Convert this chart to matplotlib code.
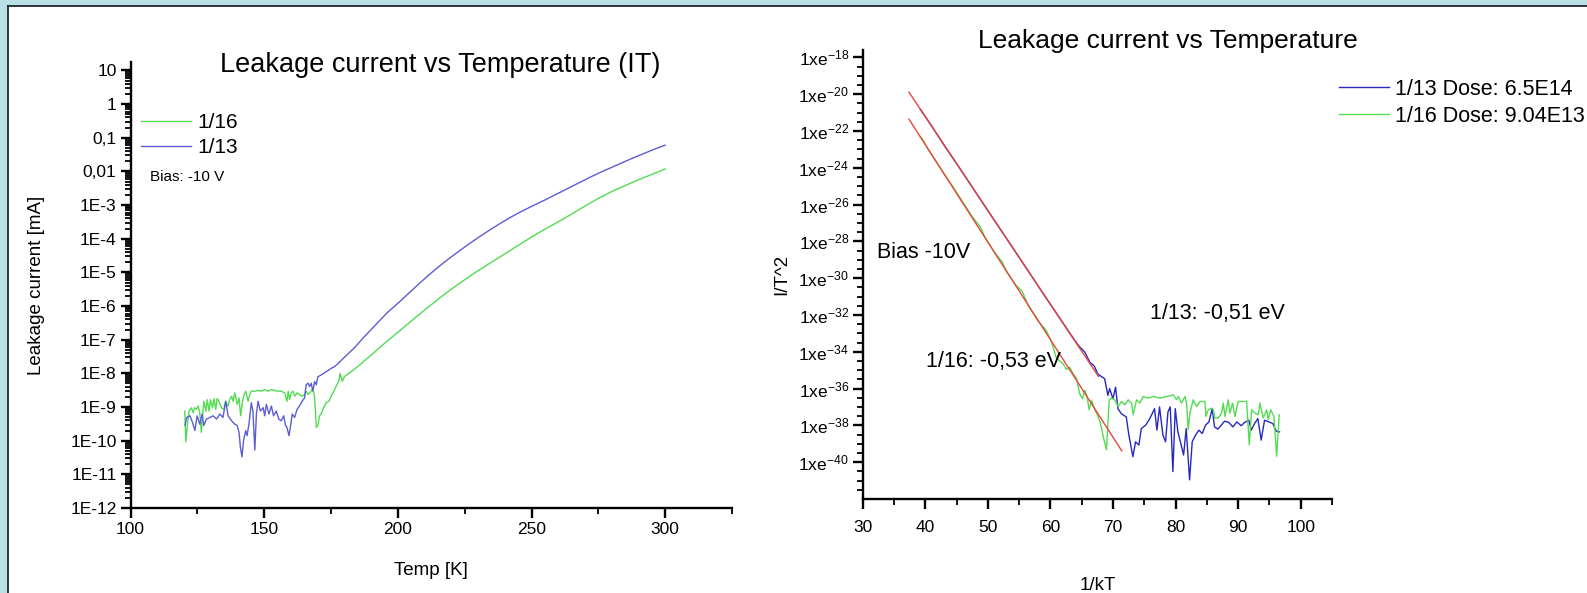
import numpy as np
import matplotlib
matplotlib.use("Agg")
import matplotlib.pyplot as plt
from matplotlib.patches import Rectangle
from matplotlib.lines import Line2D
from matplotlib.ticker import FixedLocator, NullFormatter

plt.rcParams["font.family"] = ["Liberation Sans", "DejaVu Sans"]
plt.rcParams["mathtext.fontset"] = "custom"
plt.rcParams["mathtext.rm"] = "Liberation Sans"
plt.rcParams["mathtext.it"] = "Liberation Sans:italic"
plt.rcParams["mathtext.bf"] = "Liberation Sans:bold"

# ---------------- left panel: leakage current vs temperature ----------------
T_13 = [120.4, 121.0, 122.2, 123.2, 124.1, 124.9, 125.9, 126.8, 127.4, 128.4,
        129.7, 130.9, 132.2, 133.4, 134.6, 135.6, 136.5, 137.8, 139.0, 139.9,
        140.6, 141.1, 141.7, 142.3, 143.1, 143.6, 144.3, 145.2, 145.8, 146.5,
        147.1, 147.7, 148.6, 149.6, 150.2, 150.8, 151.8, 152.7, 153.5, 154.5,
        155.5, 156.4, 157.3, 158.0, 158.5, 159.3, 159.8, 160.5, 161.4, 162.3,
        163.2, 164.2, 165.1, 165.7, 166.4, 167.0, 167.6, 168.2, 168.9, 169.5,
        170.1, 171.3, 172.6, 173.8, 175.1, 176.3, 177.5, 179, 181, 184,
        187, 190, 193, 196, 200, 203, 206, 209, 212, 215,
        218, 222, 226, 230, 234, 238, 242, 246, 250, 255,
        260, 264, 268, 272, 276, 280, 284, 288, 292, 296, 300]
LOG_I_13 = [-9.55, -9.31, -9.26, -9.46, -9.70, -9.26, -9.51, -9.21, -9.55, -9.36,
            -9.31, -9.26, -9.36, -9.21, -9.31, -8.83, -9.26, -9.41, -9.51, -9.55,
            -9.75, -10.19, -10.48, -9.99, -9.70, -9.85, -9.51, -8.87, -9.12, -10.28,
            -9.21, -8.83, -9.12, -9.02, -9.26, -8.92, -9.21, -8.97, -9.26, -9.12,
            -9.36, -9.41, -9.26, -9.55, -9.60, -9.85, -9.60, -9.21, -9.31, -9.07,
            -8.97, -8.83, -8.73, -8.34, -8.29, -8.39, -8.29, -8.53, -8.24, -8.34,
            -8.10, -8.05, -7.98, -7.92, -7.85, -7.80, -7.72, -7.60, -7.45, -7.22,
            -6.95, -6.70, -6.45, -6.20, -5.92, -5.70, -5.48, -5.26, -5.05, -4.85,
            -4.66, -4.42, -4.19, -3.97, -3.76, -3.56, -3.37, -3.20, -3.04, -2.85,
            -2.65, -2.49, -2.33, -2.17, -2.02, -1.88, -1.74, -1.60, -1.47, -1.34, -1.22]

T_16 = [120.3, 120.7, 121.2, 121.9, 122.8, 123.4, 124.0, 124.7, 125.3, 125.9,
        126.5, 127.4, 128.2, 128.7, 129.4, 129.9, 130.7, 131.2, 131.9, 132.4,
        133.1, 134.0, 134.9, 135.6, 136.5, 137.1, 137.8, 138.4, 139.0, 139.9,
        140.6, 141.2, 141.9, 142.5, 143.1, 144.0, 144.6, 145.2, 146.5, 147.7,
        149.0, 150.2, 151.4, 152.7, 153.9, 155.2, 156.4, 157.7, 158.5, 159.0,
        159.5, 160.1, 160.8, 161.4, 162.3, 163.2, 164.2, 165.1, 165.7, 166.4,
        167.0, 167.6, 168.2, 168.9, 169.5, 170.1, 170.7, 171.3, 172.2, 173.2,
        174.2, 175.1, 175.7, 176.9, 177.9, 178.4, 179.2, 180.0, 181.3, 183,
        185, 187, 190, 193, 196, 200, 203, 206, 210, 213,
        216, 220, 225, 230, 235, 240, 245, 250, 255, 260,
        265, 270, 275, 280, 285, 290, 295, 300]
LOG_I_16 = [-9.12, -10.04, -9.60, -9.12, -9.02, -9.17, -9.02, -9.07, -8.97, -9.17,
            -9.75, -8.83, -9.12, -8.78, -9.12, -8.78, -9.02, -8.75, -9.07, -8.75,
            -8.83, -9.02, -9.07, -8.83, -8.97, -8.78, -8.68, -8.83, -8.58, -8.92,
            -8.73, -9.26, -8.83, -8.63, -8.53, -8.83, -8.63, -8.53, -8.53, -8.51,
            -8.53, -8.48, -8.53, -8.48, -8.51, -8.53, -8.53, -8.58, -8.83, -8.53,
            -8.78, -8.58, -8.53, -8.68, -8.58, -8.63, -8.68, -8.63, -8.53, -8.63,
            -8.58, -8.53, -8.44, -8.73, -9.60, -9.55, -9.26, -9.21, -9.02, -8.87,
            -8.83, -8.68, -8.58, -8.39, -8.24, -8.00, -8.24, -8.10, -8.02, -7.92,
            -7.80, -7.66, -7.46, -7.25, -7.04, -6.78, -6.58, -6.38, -6.12, -5.93,
            -5.74, -5.50, -5.22, -4.95, -4.70, -4.45, -4.20, -3.95, -3.72, -3.50,
            -3.27, -3.03, -2.80, -2.60, -2.42, -2.25, -2.09, -1.93]

LEFT_YTICK_EXP = [1, 0, -1, -2, -3, -4, -5, -6, -7, -8, -9, -10, -11, -12]
LEFT_YTICK_LABELS = ["10", "1", "0,1", "0,01", "1E-3", "1E-4", "1E-5", "1E-6",
                     "1E-7", "1E-8", "1E-9", "1E-10", "1E-11", "1E-12"]
LEFT_XTICKS = [100, 150, 200, 250, 300]

# ---------------- right panel: Arrhenius plot ----------------
INV_KT_13 = [39.2, 41, 43, 45, 47, 49, 51, 53, 55, 57, 59, 61, 63, 64.5, 65.5,
             66.3, 67.0, 67.6,
             68.66, 69.19, 69.46, 69.99, 70.41, 70.79, 71.32, 72.12, 72.54, 73.18,
             73.61, 74.14, 74.52, 75.21, 75.74, 76.27, 76.64, 77.02, 77.44, 77.98,
             78.40, 78.78, 79.15, 79.57, 79.95, 80.37, 80.90, 81.28, 81.70, 82.24,
             82.66, 83.19, 83.73, 84.26, 84.79, 85.33, 85.86, 86.23, 86.76, 87.30,
             87.83, 88.52, 89.16, 89.80, 90.49, 91.02, 91.71, 92.09, 92.62, 93.15,
             93.68, 94.22, 94.91, 95.55, 96.08, 96.61]
LN_IT2_13 = [-20.82, -21.72, -22.77, -23.77, -24.79, -25.82, -26.84, -27.85, -28.87,
             -29.89, -30.92, -31.92, -32.94, -33.67, -34.02, -34.57, -34.77, -35.22,
             -35.46, -36.37, -36.00, -36.55, -35.92, -37.09, -37.36, -37.54, -38.53,
             -39.70, -38.89, -39.07, -38.17, -37.99, -37.72, -37.36, -37.09, -38.26,
             -37.00, -38.53, -38.89, -37.27, -37.00, -40.51, -37.09, -38.35, -39.07,
             -39.61, -38.17, -40.96, -38.89, -38.53, -38.26, -38.44, -37.99, -37.81,
             -37.09, -38.08, -38.20, -37.99, -37.77, -37.84, -38.08, -37.81, -38.02,
             -37.84, -37.72, -38.26, -37.90, -37.63, -38.80, -37.72, -37.81, -37.90,
             -38.31, -38.35]

INV_KT_16 = [39.2, 39.6, 40.3, 41.5, 43.0, 44.5, 46.0, 47.5, 48.8, 49.5, 51.0,
             52.3, 53.0, 54.5, 55.5, 56.5, 58.0, 59.3, 60.2,
             60.96, 62.03, 62.56, 63.10, 63.63, 64.16, 64.70, 65.12, 65.50, 65.87,
             66.19, 66.56, 67.10, 67.63, 68.00, 68.43, 68.96, 69.39, 69.76, 70.29,
             70.83, 71.36, 71.89, 72.43, 72.96, 73.23, 73.76, 74.29, 74.83, 75.63,
             76.43, 77.49, 78.56, 79.62, 80.16, 80.42, 80.95, 81.49, 81.76, 82.02,
             82.29, 82.82, 83.35, 83.89, 84.69, 84.85, 85.22, 85.75, 86.02, 86.29,
             86.82, 87.35, 87.62, 87.89, 88.42, 88.69, 89.11, 89.49, 90.02, 90.55,
             91.35, 91.78, 92.15, 92.68, 93.22, 93.48, 94.02, 94.55, 94.82, 95.19,
             95.72, 96.15, 96.57]
LN_IT2_16 = [-22.32, -22.47, -22.92, -23.55, -24.32, -25.07, -25.87, -26.65, -27.22,
             -27.75, -28.57, -29.12, -29.65, -30.39, -30.72, -31.52, -32.32, -32.82,
             -33.49,
             -34.35, -34.65, -34.95, -34.85, -35.20, -35.45, -36.30, -36.55, -36.10,
             -36.45, -37.15, -36.64, -37.16, -37.53, -37.88, -38.60, -39.32, -36.61,
             -36.52, -36.61, -36.97, -36.70, -36.88, -36.61, -36.79, -37.42, -36.61,
             -36.79, -36.43, -36.52, -36.43, -36.52, -36.43, -36.34, -36.61, -36.43,
             -36.79, -36.43, -36.79, -38.24, -37.33, -36.61, -36.97, -36.70, -36.70,
             -37.51, -37.15, -37.06, -37.15, -37.60, -37.60, -37.33, -36.79, -37.51,
             -36.61, -37.33, -36.79, -37.51, -36.70, -36.70, -36.70, -39.05, -37.15,
             -37.33, -37.42, -36.79, -37.60, -37.15, -37.69, -37.15, -37.51, -39.68,
             -37.42]

# linear fits of ln(I/T^2) against 1/kT: slope = -Ea
FIT_13_EA = 0.51
FIT_13_INTERCEPT = -0.82
FIT_13_RANGE = [37.4, 67.7]
FIT_16_EA = 0.53
FIT_16_INTERCEPT = -1.54
FIT_16_RANGE = [37.4, 71.4]

RIGHT_YTICK_EXP = [-18, -20, -22, -24, -26, -28, -30, -32, -34, -36, -38, -40]
RIGHT_XTICKS = [30, 40, 50, 60, 70, 80, 90, 100]

GREEN = "#52dc52"
BLUE_L = "#5c5cd8"
BLUE_R = "#2828c0"
RED = "#e8453c"

W, H = 1587, 593
fig = plt.figure(figsize=(W / 100, H / 100), dpi=100)
fig.patch.set_facecolor("white")


def fx(px):
    return px / W


def fy(py):
    return 1 - py / H


# page frame: light band on top and left with a dark edge
band = "#b8dfe3"
fig.add_artist(Rectangle((0, fy(6)), 1, 6 / H, transform=fig.transFigure,
                         facecolor=band, edgecolor="none", zorder=0))
fig.add_artist(Rectangle((0, 0), fx(8), 1, transform=fig.transFigure,
                         facecolor=band, edgecolor="none", zorder=0))
fig.add_artist(Line2D([fx(8), 1], [fy(6), fy(6)], transform=fig.transFigure,
                      color="#1c262c", lw=1.3))
fig.add_artist(Line2D([fx(8), fx(8)], [0, fy(6)], transform=fig.transFigure,
                      color="#1c262c", lw=1.3))


def style_axes(ax):
    for s in ("top", "right"):
        ax.spines[s].set_visible(False)
    for s in ("left", "bottom"):
        ax.spines[s].set_linewidth(1.7)
    ax.tick_params(which="major", direction="out", length=7, width=1.7,
                   labelsize=12.5, pad=3)
    ax.tick_params(which="minor", direction="out", length=4, width=1.3)
    ax.set_facecolor("none")


# ---- left axes ----
axL = fig.add_axes([fx(130.5), fy(508), fx(732 - 130.5), (508 - 62) / H])
style_axes(axL)
axL.set_yscale("log")
axL.plot(T_16, 10.0 ** np.array(LOG_I_16), color=GREEN, lw=1.0, label="1/16")
axL.plot(T_13, 10.0 ** np.array(LOG_I_13), color=BLUE_L, lw=1.0, label="1/13")
axL.set_xlim(100, 325)
axL.set_ylim(1e-12, 10 ** 1.25)
axL.xaxis.set_major_locator(FixedLocator(LEFT_XTICKS))
axL.xaxis.set_minor_locator(FixedLocator([125, 175, 225, 275, 325]))
axL.set_yticks([10.0 ** e for e in LEFT_YTICK_EXP], LEFT_YTICK_LABELS)
minor_y = [m * 10.0 ** e for e in range(-12, 2) for m in range(2, 10)]
axL.yaxis.set_minor_locator(FixedLocator(minor_y))
axL.yaxis.set_minor_formatter(NullFormatter())
axL.set_xlabel("Temp [K]", fontsize=13.5, labelpad=18)
axL.set_ylabel("Leakage current [mA]", fontsize=13.5, labelpad=18)
axL.legend(loc="upper left", bbox_to_anchor=(fx(141), fy(113)),
           bbox_transform=fig.transFigure, frameon=False, fontsize=15,
           handlelength=2.4, handletextpad=0.3, labelspacing=0.28,
           borderpad=0, borderaxespad=0)
fig.text(fx(150), fy(177), "Bias: -10 V", fontsize=11, va="center", ha="left")
fig.text(fx(440), fy(72), "Leakage current vs Temperature (IT)", fontsize=19.5,
         ha="center", va="baseline")

# ---- right axes ----
axR = fig.add_axes([fx(862.7), fy(499), fx(1332 - 862.7), (499 - 50) / H])
style_axes(axR)
axR.tick_params(axis="x", which="major", pad=8)
axR.set_yscale("log", base=np.e)
axR.plot(INV_KT_13, np.exp(LN_IT2_13), color=BLUE_R, lw=1.0,
         label="1/13 Dose: 6.5E14")
axR.plot(INV_KT_16, np.exp(LN_IT2_16), color=GREEN, lw=1.0,
         label="1/16 Dose: 9.04E13")
for (x0, x1), ea, a in ((FIT_13_RANGE, FIT_13_EA, FIT_13_INTERCEPT),
                        (FIT_16_RANGE, FIT_16_EA, FIT_16_INTERCEPT)):
    xs = np.array([x0, x1])
    axR.plot(xs, np.exp(a - ea * xs), color=RED, lw=1.0)
axR.set_xlim(30, 105)
axR.set_ylim(np.exp(-42), np.exp(-17.6))
axR.xaxis.set_major_locator(FixedLocator(RIGHT_XTICKS))
axR.xaxis.set_minor_locator(FixedLocator([35, 45, 55, 65, 75, 85, 95, 105]))
axR.set_yticks([np.exp(e) for e in RIGHT_YTICK_EXP],
               ["1xe$^{%d}$" % e for e in RIGHT_YTICK_EXP])
axR.yaxis.set_minor_locator(FixedLocator(
    [np.exp(v) for v in np.arange(-41.5, -17.5, 0.5)]))
axR.yaxis.set_minor_formatter(NullFormatter())
axR.set_xlabel("1/kT", fontsize=13.5, labelpad=30)
axR.set_ylabel("I/T^2", fontsize=13.5, labelpad=6)
axR.legend(loc="upper left", bbox_to_anchor=(fx(1339), fy(79)),
           bbox_transform=fig.transFigure, frameon=False, fontsize=15.5,
           handlelength=2.3, handletextpad=0.3, labelspacing=0.26,
           borderpad=0, borderaxespad=0)
fig.text(fx(1168), fy(48), "Leakage current vs Temperature", fontsize=19,
         ha="center", va="baseline")
fig.text(fx(877), fy(252), "Bias -10V", fontsize=15.5, va="center", ha="left")
fig.text(fx(1150), fy(313), "1/13: -0,51 eV", fontsize=15.5, va="center", ha="left")
fig.text(fx(926), fy(362), "1/16: -0,53 eV", fontsize=15.5, va="center", ha="left")

fig.savefig("out.png", dpi=100, facecolor=fig.get_facecolor())
